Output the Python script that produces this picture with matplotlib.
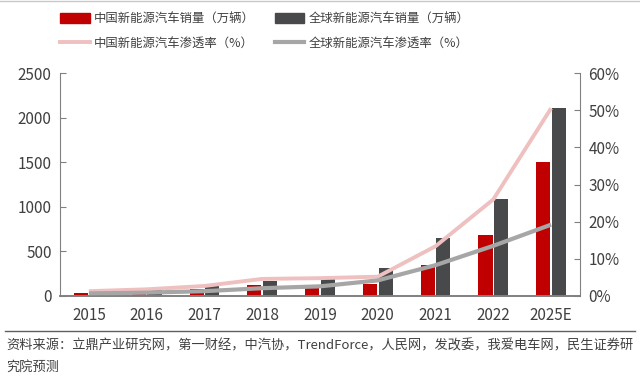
import matplotlib.pyplot as plt
import numpy as np
from matplotlib.ticker import FuncFormatter
from matplotlib.lines import Line2D
from matplotlib.patches import Patch

plt.rcParams['font.family'] = ['Noto Sans CJK SC', 'DejaVu Sans']

# data
years = ["2015", "2016", "2017", "2018", "2019", "2020", "2021", "2022", "2025E"]
china_sales = [33, 50, 80, 128, 125, 137, 352, 689, 1500]
global_sales = [55, 77, 110, 170, 195, 310, 650, 1082, 2110]
china_pen = [1.3, 1.8, 2.7, 4.6, 4.8, 5.2, 13.4, 26.0, 50.5]
global_pen = [0.7, 0.9, 1.3, 2.1, 2.6, 4.2, 8.3, 13.5, 19.2]

red = "#C00000"
dark = "#48494B"
pink = "#EFC0C0"
grey = "#A6A6A6"
txt = "#404040"

fig = plt.figure(figsize=(6.4, 3.77), dpi=100)
ax = fig.add_axes([60/640, 81/377, 520/640, 223/377])
ax2 = ax.twinx()

x = np.arange(len(years))
w = 0.245
ax.bar(x - w/2 - 0.013, china_sales, w, color=red, zorder=2)
ax.bar(x + w/2 + 0.013, global_sales, w, color=dark, zorder=2)

ax2.plot(x, china_pen, color=pink, lw=2.8, solid_capstyle="butt", zorder=3)
ax2.plot(x, global_pen, color=grey, lw=3.0, solid_capstyle="butt", zorder=3)

ax.set_xlim(-0.5, len(years) - 0.5)
ax.set_ylim(0, 2500)
ax.set_yticks([0, 500, 1000, 1500, 2000, 2500])
ax2.set_ylim(0, 60)
ax2.set_yticks([0, 10, 20, 30, 40, 50, 60])
ax2.yaxis.set_major_formatter(FuncFormatter(lambda v, p: f"{v:.0f}%"))

ax.set_xticks(x)
ax.set_xticklabels(years)

for a in (ax, ax2):
    a.spines["top"].set_visible(False)
    a.spines["left"].set_color("#808080")
    a.spines["right"].set_color("#808080")
    a.spines["bottom"].set_color("#808080")
    a.spines["bottom"].set_linewidth(1.2)
    a.tick_params(axis="y", direction="in", length=4, color="#808080",
                  labelsize=11, labelcolor=txt, pad=6)
    a.tick_params(axis="x", length=0, labelsize=11, labelcolor=txt, pad=8)
ax2.spines["left"].set_visible(False)
ax.spines["right"].set_visible(False)

# legend
handles = [Patch(color=red), Line2D([], [], color=pink, lw=2.8),
           Patch(color=dark), Line2D([], [], color=grey, lw=3.0)]
labels = ["中国新能源汽车销量（万辆）", "中国新能源汽车渗透率（%）",
          "全球新能源汽车销量（万辆）", "全球新能源汽车渗透率（%）"]
fig.legend(handles, labels, ncol=2, loc="upper left",
           bbox_to_anchor=(54/640, 1 - 6/377), frameon=False, borderpad=0,
           fontsize=8.9, labelcolor=txt, handlelength=2.4, handleheight=0.9,
           columnspacing=1.65, labelspacing=0.95, handletextpad=0.3)

# frame lines
fig.add_artist(Line2D([0, 1], [1 - 1/377, 1 - 1/377], color="#C8C8C8", lw=1))
fig.add_artist(Line2D([5/640, 635/640], [1 - 331/377, 1 - 331/377],
                      color="#606060", lw=1))

fig.text(6/640, 1 - 346/377,
         "资料来源：立鼎产业研究网，第一财经，中汽协，TrendForce，人民网，发改委，我爱电车网，民生证券研",
         fontsize=9.5, color=txt, va="center")
fig.text(6/640, 1 - 367/377, "究院预测", fontsize=9.5, color=txt, va="center")

fig.savefig("out.png", dpi=100)
